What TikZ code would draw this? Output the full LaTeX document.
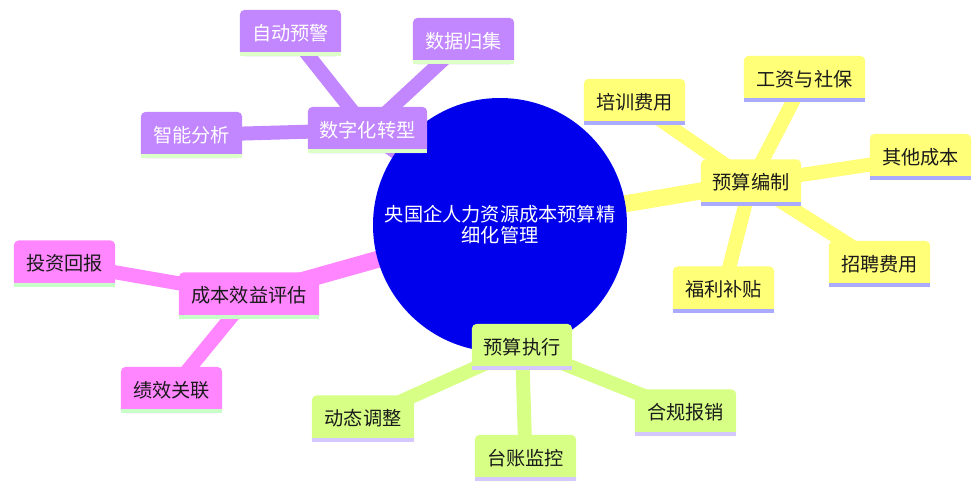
\documentclass[tikz,border=0pt]{standalone}
\usepackage{fontspec}
\newfontfamily\cjk{Noto Sans CJK SC}
\pgfdeclarelayer{edgelayer}
\pgfdeclarelayer{boxlayer}
\pgfsetlayers{edgelayer,boxlayer,main}
\definecolor{rootc}{HTML}{0000EC}
\definecolor{yel}{HTML}{FFFF78}
\definecolor{yelu}{HTML}{AAAAFF}
\definecolor{grn}{HTML}{D7FF86}
\definecolor{grnu}{HTML}{D4C8FF}
\definecolor{pur}{HTML}{C286FF}
\definecolor{puru}{HTML}{DDFFC8}
\definecolor{pnk}{HTML}{FF86FF}
\definecolor{pnku}{HTML}{C8FFC8}
\definecolor{ink}{HTML}{1A1A1A}
\tikzset{
  mmtext/.style={font=\cjk\fontsize{19.2}{21}\selectfont, inner sep=0pt, minimum height=46pt, align=center},
  rootnode/.style={circle, inner sep=0pt, minimum size=254pt, text=white, align=center, font=\cjk\fontsize{19.2}{21}\selectfont},
  edgeroot/.style={line width=17pt},
  edgeleaf/.style={line width=14pt},
}
\newcommand\mmbox[8]{%
  \node[mmtext, minimum width=#4pt, text=#7] (#1) at (#2,#3) {#8};
  \begin{pgfonlayer}{boxlayer}
    \fill[#5, rounded corners=5pt] (#1.south west) rectangle (#1.north east);
    \fill[#5] (#1.south west) rectangle ([yshift=12pt]#1.south east);
    \fill[#6] (#1.south west) rectangle ([yshift=4pt]#1.south east);
  \end{pgfonlayer}}
\begin{document}
\begin{tikzpicture}[x=1pt,y=-1pt]
\useasboundingbox (0,0) rectangle (978,488);
\node[rootnode] (root) at (500,225) {央国企人力资源成本预算精\\细化管理};
\begin{pgfonlayer}{boxlayer}
  \fill[rootc] (root.center) circle[radius=127pt];
\end{pgfonlayer}
% yellow branch
\mmbox{bz}{751}{182.5}{100}{yel}{yelu}{ink}{预算编制}
\mmbox{px}{634.5}{102}{101}{yel}{yelu}{ink}{培训费用}
\mmbox{gz}{804.5}{79}{121}{yel}{yelu}{ink}{工资与社保}
\mmbox{qt}{920.5}{157}{101}{yel}{yelu}{ink}{其他成本}
\mmbox{zp}{879.5}{264}{101}{yel}{yelu}{ink}{招聘费用}
\mmbox{fl}{723.5}{289.5}{101}{yel}{yelu}{ink}{福利补贴}
% purple branch
\mmbox{sz}{367.5}{130}{119}{pur}{puru}{white}{数字化转型}
\mmbox{zd}{290.5}{33}{101}{pur}{puru}{white}{自动预警}
\mmbox{sj}{463.5}{41}{101}{pur}{puru}{white}{数据归集}
\mmbox{zn}{191.5}{135}{101}{pur}{puru}{white}{智能分析}
% pink branch
\mmbox{cb}{249}{295.5}{140}{pnk}{pnku}{ink}{成本效益评估}
\mmbox{tz}{64.5}{263.5}{101}{pnk}{pnku}{ink}{投资回报}
\mmbox{jx}{171.5}{390}{101}{pnk}{pnku}{ink}{绩效关联}
% green branch
\mmbox{zx}{522}{347}{100}{grn}{grnu}{ink}{预算执行}
\mmbox{dt}{363}{418.5}{102}{grn}{grnu}{ink}{动态调整}
\mmbox{tj}{525.5}{458}{101}{grn}{grnu}{ink}{台账监控}
\mmbox{hg}{685.5}{412.5}{101}{grn}{grnu}{ink}{合规报销}
\begin{pgfonlayer}{edgelayer}
  \draw[yel, edgeroot] (root.center) -- (bz.center);
  \draw[pur, edgeroot] (root.center) -- (sz.center);
  \draw[pnk, edgeroot] (root.center) -- (cb.center);
  \draw[grn, edgeroot] (root.center) -- (zx.center);
  \foreach \n in {px,gz,qt,zp,fl} \draw[yel, edgeleaf] (bz.center) -- (\n.center);
  \foreach \n in {zd,sj,zn} \draw[pur, edgeleaf] (sz.center) -- (\n.center);
  \foreach \n in {tz,jx} \draw[pnk, edgeleaf] (cb.center) -- (\n.center);
  \foreach \n in {dt,tj,hg} \draw[grn, edgeleaf] (zx.center) -- (\n.center);
\end{pgfonlayer}
\end{tikzpicture}
\end{document}
